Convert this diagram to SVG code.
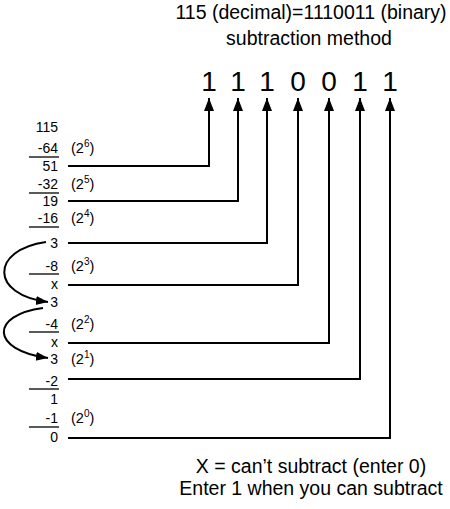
<svg xmlns="http://www.w3.org/2000/svg" width="450" height="509" viewBox="0 0 450 509">
<style>
text{font-family:"Liberation Sans",Arial,sans-serif;fill:#000}
.t{font-size:19.5px;text-anchor:middle}
.d{font-size:28px;text-anchor:middle}
.n{font-size:14px;text-anchor:end}
.p{font-size:14.5px}
.s{font-size:10px}
.w{fill:none;stroke:#000;stroke-width:2}
.u{stroke:#000;stroke-width:1.3}
</style>
<defs>
<marker id="ah" markerUnits="userSpaceOnUse" markerWidth="14" markerHeight="12" refX="13" refY="5" orient="auto">
<path d="M0,0 L13,5 L0,10 z" fill="#000"/>
</marker>
<marker id="ac" markerUnits="userSpaceOnUse" markerWidth="14" markerHeight="12" refX="12" refY="4.5" orient="auto">
<path d="M0,0 L12,4.5 L0,9 z" fill="#000"/>
</marker>
</defs>
<g id="title">
<text class="t" x="311" y="19">115 (decimal)=1110011 (binary)</text>
<text class="t" x="309" y="45">subtraction method</text>
</g>
<g id="bits">
<text class="d" x="209" y="91">1</text>
<text class="d" x="238" y="91">1</text>
<text class="d" x="267" y="91">1</text>
<text class="d" x="298" y="91">0</text>
<text class="d" x="329" y="91">0</text>
<text class="d" x="360" y="91">1</text>
<text class="d" x="390" y="91">1</text>
</g>
<g id="work">
<text class="n" x="58" y="132">115</text>
<text class="n" x="58" y="153">-64</text><text class="p" x="71" y="153">(2<tspan class="s" dy="-6">6</tspan><tspan dy="6">)</tspan></text>
<line class="u" x1="29" y1="157" x2="59" y2="157"/>
<text class="n" x="58" y="171">51</text>
<text class="n" x="58" y="189">-32</text><text class="p" x="71" y="189">(2<tspan class="s" dy="-6">5</tspan><tspan dy="6">)</tspan></text>
<line class="u" x1="29" y1="193" x2="59" y2="193"/>
<text class="n" x="58" y="206">19</text>
<text class="n" x="58" y="223">-16</text><text class="p" x="71" y="223">(2<tspan class="s" dy="-6">4</tspan><tspan dy="6">)</tspan></text>
<line class="u" x1="29" y1="227" x2="59" y2="227"/>
<text class="n" x="58" y="248">3</text>
<text class="n" x="58" y="271">-8</text><text class="p" x="71" y="271">(2<tspan class="s" dy="-6">3</tspan><tspan dy="6">)</tspan></text>
<line class="u" x1="29" y1="274" x2="59" y2="274"/>
<text class="n" x="58" y="289">x</text>
<text class="n" x="58" y="307">3</text>
<text class="n" x="58" y="329">-4</text><text class="p" x="71" y="329">(2<tspan class="s" dy="-6">2</tspan><tspan dy="6">)</tspan></text>
<line class="u" x1="29" y1="332" x2="59" y2="332"/>
<text class="n" x="58" y="347">x</text>
<text class="n" x="58" y="364">3</text><text class="p" x="71" y="364">(2<tspan class="s" dy="-6">1</tspan><tspan dy="6">)</tspan></text>
<text class="n" x="58" y="386">-2</text>
<line class="u" x1="29" y1="389" x2="59" y2="389"/>
<text class="n" x="58" y="404">1</text>
<text class="n" x="58" y="423">-1</text><text class="p" x="71" y="423">(2<tspan class="s" dy="-6">0</tspan><tspan dy="6">)</tspan></text>
<line class="u" x1="29" y1="427" x2="59" y2="427"/>
<text class="n" x="58" y="442">0</text>
</g>
<g id="connectors">
<path class="w" d="M68,166 H209 V98" marker-end="url(#ah)"/>
<path class="w" d="M68,201 H238 V98" marker-end="url(#ah)"/>
<path class="w" d="M68,243 H267 V98" marker-end="url(#ah)"/>
<path class="w" d="M68,285 H298 V98" marker-end="url(#ah)"/>
<path class="w" d="M68,343 H329 V98" marker-end="url(#ah)"/>
<path class="w" d="M68,379 H360 V98" marker-end="url(#ah)"/>
<path class="w" d="M68,438 H390 V98" marker-end="url(#ah)"/>
<path class="w" d="M46,242 C-10,250 -10,295 48,302" marker-end="url(#ac)"/>
<path class="w" d="M43,308 C-10,315 -10,350 48,358" marker-end="url(#ac)"/>
</g>
<g id="note">
<text class="t" x="311" y="473">X = can’t subtract (enter 0)</text>
<text class="t" x="311" y="495">Enter 1 when you can subtract</text>
</g>
</svg>
